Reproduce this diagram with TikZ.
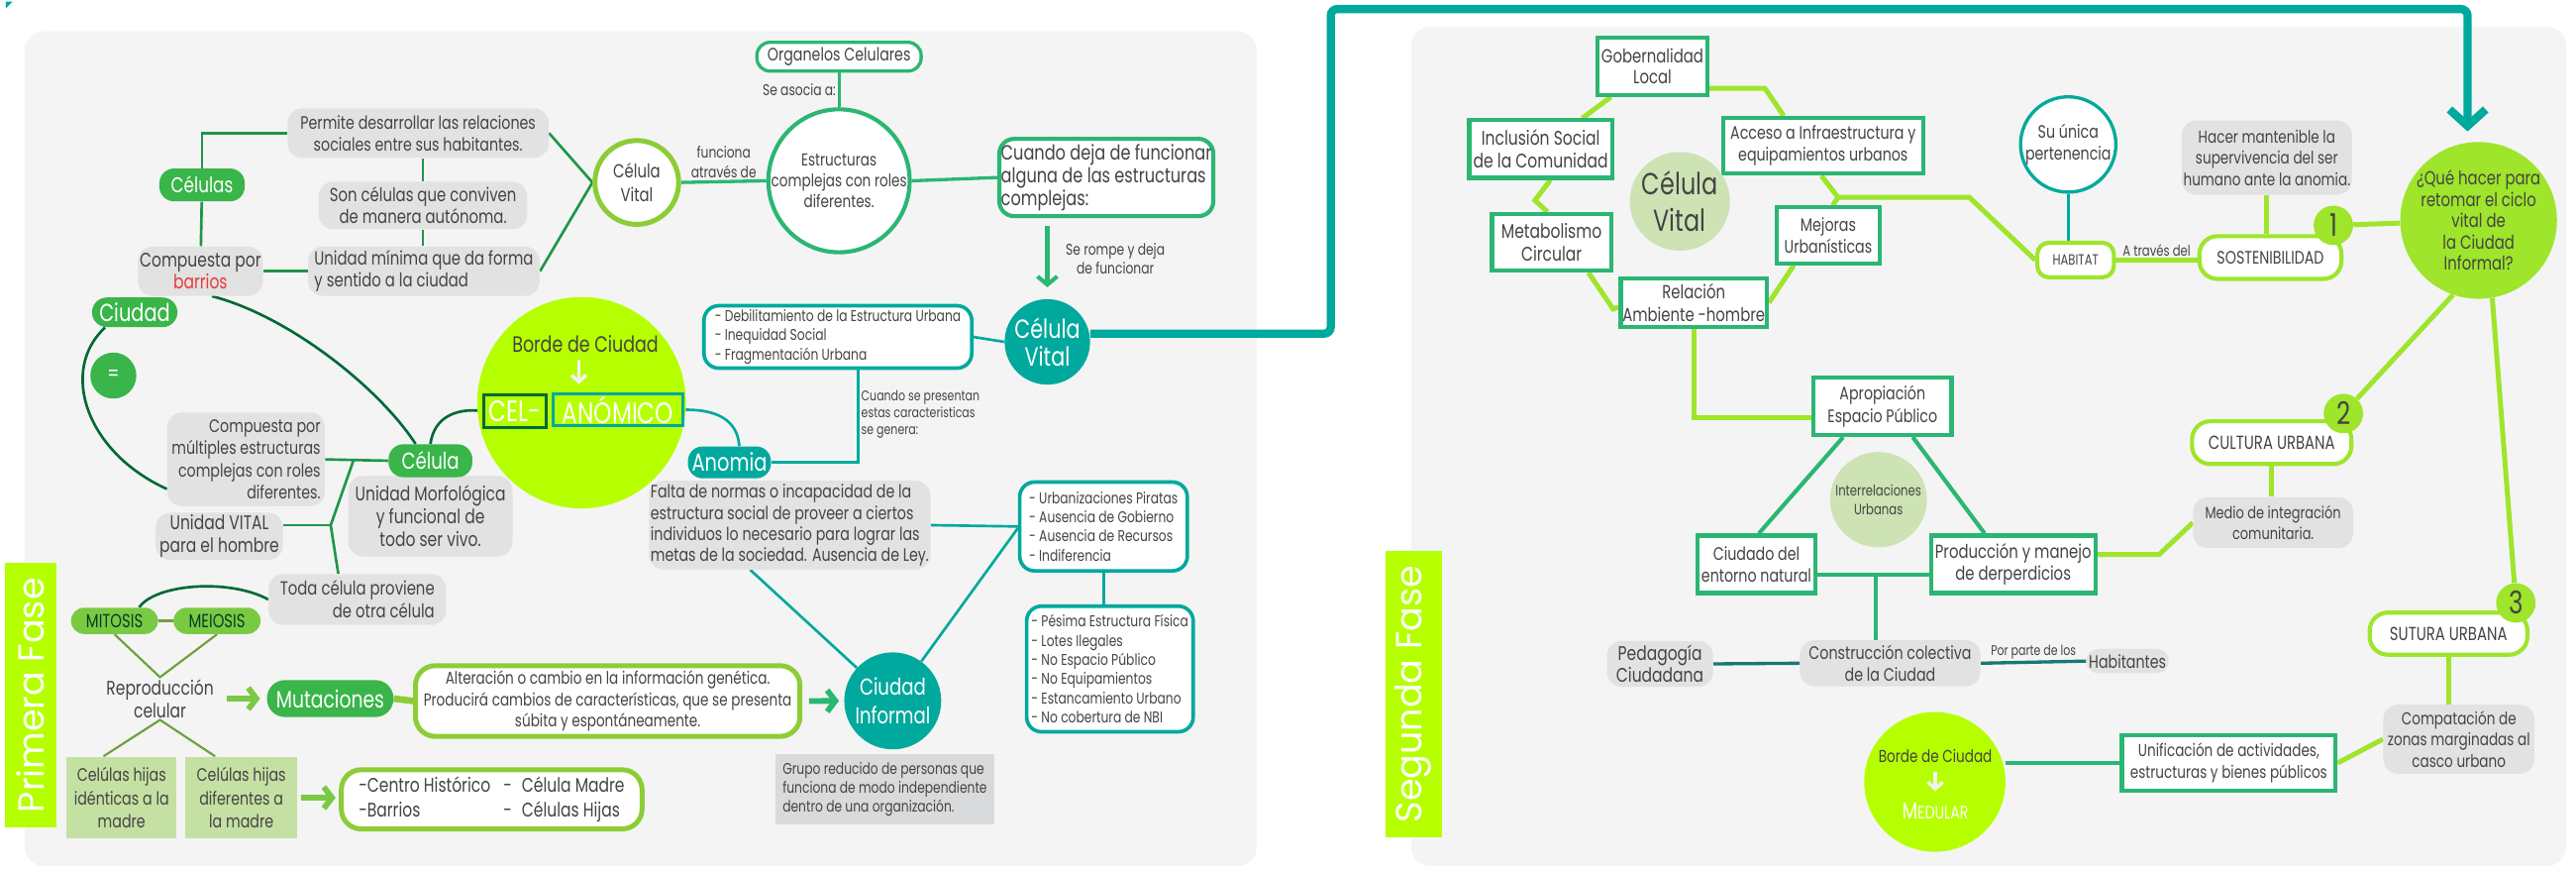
\documentclass[tikz,border=0pt]{standalone}
\usepackage{fontspec}
\setmainfont{Poppins}[FakeStretch=0.78]
\newfontfamily\phasefont{Poppins}
\usetikzlibrary{shapes.geometric,arrows.meta,calc}
\definecolor{panelbg}{RGB}{244,244,244}
\definecolor{boxgray}{RGB}{226,226,226}
\definecolor{grupogray}{RGB}{217,218,219}
\definecolor{txtgray}{RGB}{68,68,68}
\definecolor{pillgreen}{RGB}{57,181,74}
\definecolor{linegreen}{RGB}{30,150,72}
\definecolor{darkgreen}{RGB}{0,105,55}
\definecolor{medgreen}{RGB}{43,182,115}
\definecolor{celteal}{RGB}{0,169,157}
\definecolor{darkteal}{RGB}{22,122,114}
\definecolor{limec}{RGB}{182,255,0}
\definecolor{ringgreen}{RGB}{140,205,55}
\definecolor{mitgreen}{RGB}{122,201,67}
\definecolor{olivec}{RGB}{112,160,60}
\definecolor{hijasgreen}{RGB}{197,224,163}
\definecolor{brightlime}{RGB}{158,229,43}
\definecolor{palegreen}{RGB}{205,227,180}
\definecolor{barriored}{RGB}{232,57,58}
\newcommand{\fsz}[2]{\fontsize{#1}{#2}\selectfont}
\pgfdeclarelayer{back}
\pgfdeclarelayer{links}
\pgfsetlayers{back,links,main}

\begin{document}
\begin{tikzpicture}[x=1pt, y=-1pt,
    every node/.style={text=txtgray, inner sep=1pt, align=center},
    sz/.style 2 args={minimum width=#1pt, minimum height=#2pt},
    grisbox/.style={fill=boxgray, rounded corners=9pt},
    pill/.style={rounded corners=9pt, text=white},
    verdebox/.style={draw=medgreen, line width=2.5pt, fill=white},
    lineabox/.style={draw=brightlime, line width=2.5pt, fill=white, rounded corners=11pt},
    anillobox/.style={draw=ringgreen, line width=3pt, fill=white, rounded corners=12pt},
    tealbox/.style={draw=celteal, line width=2.2pt, fill=white, rounded corners=9pt},
    numero/.style={circle, fill=brightlime, minimum size=24pt, inner sep=0pt, font=\fsz{19}{19}},
    oval/.style={ellipse, inner sep=0pt},
    lbl/.style={font=\fsz{9}{11}},
    thinlink/.style={draw=linegreen, line width=1.6pt},
    curva/.style={draw=darkgreen, line width=1.6pt},
    midlink/.style={draw=medgreen, line width=2pt},
    teallink/.style={draw=celteal, line width=1.6pt},
    olivelink/.style={draw=olivec, line width=1.3pt},
    limelink/.style={draw=brightlime, line width=3pt},
    greenlink/.style={draw=medgreen, line width=2.5pt},
    darktlink/.style={draw=darkteal, line width=2pt},
    chunky/.style={line width=3.5pt, -{Straight Barb[length=5pt,width=13pt]}},
    blanca/.style={draw=white!90!gray, line width=2.2pt, -{Straight Barb[length=4pt,width=9pt]}},
    fase/.style={fill=limec, text=white, font=\phasefont\fsz{22}{22}}
  ]
  \useasboundingbox (0,0) rectangle (1568,529);

  % Panels
  \begin{pgfonlayer}{back}
    \fill[panelbg, rounded corners=12pt] (15,19) rectangle (765,527);
    \fill[panelbg, rounded corners=12pt] (859,16) rectangle (1562,527);
    \fill[celteal] (3.6,1) -- (7.6,1) -- (3.6,5) -- cycle;
  \end{pgfonlayer}

  % Primera fase: celulas
  \node[pill, fill=pillgreen, sz={52}{20}, font=\fsz{13}{13}] (celulas) at (123,112.5) {Células};
  \node[grisbox, sz={159}{30}, font=\fsz{11}{13.5}] (permite) at (254.5,81) {Permite desarrollar las relaciones\\sociales entre sus habitantes.};
  \node[grisbox, sz={127}{29}, font=\fsz{11.5}{13.5}] (son) at (257.5,125) {Son células que conviven\\de manera autónoma.};
  \node[grisbox, sz={141}{30}, align=left, font=\fsz{11.5}{13.5}] (unimin) at (258,165) {Unidad mínima que da forma\\y sentido a la ciudad};
  \node[grisbox, sz={76}{30}, font=\fsz{12}{13.5}] (barrios) at (122,165) {Compuesta por\\\textcolor{barriored}{barrios}};
  \node[oval, draw=ringgreen, line width=3pt, fill=white, sz={51}{51},
        label={[font=\fsz{11.5}{14}]center:{Célula\\Vital}}] (cvl) at (387.6,111) {};
  \node[verdebox, rounded corners=8pt, line width=2pt, sz={100}{17.5}, font=\fsz{11}{11}] (organ) at (510.7,34.5) {Organelos Celulares};
  \node[oval, draw=medgreen, line width=2.5pt, fill=white, sz={86}{87},
        label={[font=\fsz{10.5}{12.5}]center:{Estructuras\\complejas con roles\\diferentes.}}] (estr) at (510.7,110) {};
  \node[verdebox, rounded corners=9pt, sz={129}{47}, align=left, font=\fsz{12.5}{14}] (cuando) at (673.4,108) {Cuando deja de funcionar\\alguna de las estructuras\\complejas:};
  \node[oval, fill=celteal, sz={52}{52},
        label={[text=white, font=\fsz{16}{17}]center:{Célula\\Vital}}] (cvt) at (637.5,208) {};
  \node[tealbox, sz={163}{38}, align=left, font=\fsz{9.5}{11.7}] (deb) at (510,205) {- Debilitamiento de la Estructura Urbana\\- Inequidad Social\\- Fragmentación Urbana};

  % Borde de ciudad
  \node[oval, fill=limec, sz={127}{128.6}] (borde) at (354,245) {};
  \node[font=\fsz{13.5}{13.5}] (bordetxt) at (356.3,209.3) {Borde de Ciudad};
  \node[draw=darkgreen, line width=1.8pt, sz={38}{20}, inner sep=0pt, text=white, font=\fsz{18}{18}] (cel) at (313.5,250) {CEL-};
  \node[draw=celteal, line width=1.8pt, sz={78.5}{19.5}, inner sep=0pt, text=white, font=\fsz{18}{18}] (anomico) at (376.2,249.3) {ANÓMICO};
  \node[grisbox, sz={100}{49}, font=\fsz{12}{14}] (morf) at (262,314) {Unidad Morfológica\\y funcional de\\todo ser vivo.};
  \node[pill, fill=pillgreen, sz={51}{20}, font=\fsz{14}{14}] (celula) at (262,280.3) {Célula};
  \node[pill, fill=celteal, sz={50.6}{19.4}, font=\fsz{15}{15}] (anomia) at (444,281.3) {Anomia};
  \node[grisbox, sz={171}{54}, align=left, font=\fsz{11}{12.7}] (falta) at (480.7,319.5) {Falta de normas o incapacidad de la\\estructura social de proveer a ciertos\\individuos lo necesario para lograr las\\metas de la sociedad. Ausencia de Ley.};
  \node[tealbox, sz={102}{54}, align=left, font=\fsz{9.5}{11.7}] (urb) at (671.7,320.3) {- Urbanizaciones Piratas\\- Ausencia de Gobierno\\- Ausencia de Recursos\\- Indiferencia};
  \node[tealbox, sz={101.4}{76.4}, align=left, font=\fsz{9.5}{11.7}] (pes) at (675.6,407) {- Pésima Estructura Física\\- Lotes Ilegales\\- No Espacio Público\\- No Equipamientos\\- Estancamiento Urbano\\- No cobertura de NBI};
  \node[oval, fill=celteal, sz={59}{59},
        label={[text=white, font=\fsz{14}{17}]center:{Ciudad\\Informal}}] (ci) at (543.4,426.4) {};
  \node[fill=grupogray, sz={133}{43}, align=left, font=\fsz{9.5}{11.5}] (grupo) at (538.6,480) {Grupo reducido de personas que\\funciona de modo independiente\\dentro de una organización.};

  % Ciudad y reproduccion
  \node[anillobox, sz={234}{43}, font=\fsz{10.5}{13}] (alt) at (369.9,426.5) {Alteración o cambio en la información genética.\\Producirá cambios de características, que se presenta\\súbita y espontáneamente.};
  \node[pill, fill=pillgreen, rounded corners=11pt, sz={77}{22.5}, font=\fsz{14.5}{14.5}] (mut) at (201,425) {Mutaciones};
  \node[font=\fsz{12}{14}] (rep) at (97.4,425) {Reproducción\\celular};
  \node[pill, fill=mitgreen, rounded corners=8pt, sz={53}{16}, inner sep=0pt, text=darkgreen!60!black, font=\fsz{11.5}{11.5}] (mitosis) at (69.7,377.7) {MITOSIS};
  \node[pill, fill=mitgreen, rounded corners=8pt, sz={53}{16}, inner sep=0pt, text=darkgreen!60!black, font=\fsz{11.5}{11.5}] (meiosis) at (132.1,377.7) {MEIOSIS};
  \node[grisbox, sz={108}{31}, align=right, font=\fsz{11.5}{14}] (toda) at (217.5,364.7) {Toda célula proviene\\de otra célula};
  \node[grisbox, sz={77.5}{28.7}, font=\fsz{12}{14}] (uv) at (133.5,326.3) {Unidad VITAL\\para el hombre};
  \node[grisbox, sz={96}{57}, align=right, font=\fsz{11}{13.5}] (cm) at (149.8,279.5) {Compuesta por\\múltiples estructuras\\complejas con roles\\diferentes.};
  \node[pill, fill=pillgreen, sz={52}{18}, font=\fsz{15}{15}] (ciudad) at (82,190) {Ciudad};
  \node[circle, fill=pillgreen, minimum size=28pt, inner sep=0pt, text=white, font=\fsz{13}{13}] (igual) at (69,228.5) {=};
  \node[fill=hijasgreen, sz={67}{50}, font=\fsz{11}{14}] (hija1) at (74,485.3) {Celúlas hijas\\idénticas a la\\madre};
  \node[fill=hijasgreen, sz={68}{50}, font=\fsz{11}{14}] (hija2) at (146.9,485.3) {Celúlas hijas\\diferentes a\\la madre};
  \node[anillobox, sz={183}{36}, font=\fsz{12}{15}] (centro) at (299.3,486.3) {\begin{tabular}{@{}l@{\hspace{8pt}}l@{}}-Centro Histórico & -\hspace{6pt}Célula Madre\\-Barrios & -\hspace{6pt}Células Hijas\end{tabular}};
  \node[fase, rotate=90, sz={161}{31}] (fase1) at (18.8,423) {Primera Fase};

  % Segunda fase
  \node[verdebox, sz={67}{35}, font=\fsz{11.5}{13}] (gob) at (1005.8,40.3) {Gobernalidad\\Local};
  \node[verdebox, sz={87}{35}, font=\fsz{12}{14}] (inc) at (937.8,90.7) {Inclusión Social\\de la Comunidad};
  \node[verdebox, sz={122}{34}, font=\fsz{11}{13.5}] (acc) at (1109.7,88.7) {Acceso a Infraestructura y\\equipamientos urbanos};
  \node[oval, fill=palegreen, sz={61}{60},
        label={[font=\fsz{18.5}{22}]center:{Célula\\Vital}}] (cvp) at (1022.5,122.5) {};
  \node[verdebox, sz={72.5}{34.5}, font=\fsz{12}{14}] (met) at (944.4,147.4) {Metabolismo\\Circular};
  \node[verdebox, sz={63}{34}, font=\fsz{11}{13}] (mej) at (1112.8,143.2) {Mejoras\\Urbanísticas};
  \node[verdebox, sz={89}{29.5}, font=\fsz{11.5}{13.5}] (rel) at (1031,184.1) {Relación\\Ambiente -hombre};
  \node[verdebox, sz={84}{35}, font=\fsz{11}{14}] (apr) at (1145.9,247.2) {Apropiación\\Espacio Público};
  \node[oval, fill=palegreen, sz={59}{58},
        label={[font=\fsz{9}{11.5}]center:{Interrelaciones\\Urbanas}}] (inter) at (1143.4,304) {};
  \node[verdebox, sz={72}{35}, font=\fsz{11}{13.5}] (cdn) at (1069.1,343.3) {Ciudado del\\entorno natural};
  \node[verdebox, sz={100}{35}, font=\fsz{11.5}{13.5}] (prod) at (1225.4,343.3) {Producción y manejo\\de derperdicios};
  \node[grisbox, sz={64.5}{28}, font=\fsz{12}{13}] (ped) at (1010.4,403.9) {Pedagogía\\Ciudadana};
  \node[grisbox, sz={110}{28}, font=\fsz{11}{13}] (cons) at (1150.5,403.5) {Construcción colectiva\\de la Ciudad};
  \node[grisbox, rounded corners=7pt, sz={50}{14.7}, inner sep=0pt, font=\fsz{11}{11}] (habt) at (1295,402.2) {Habitantes};
  \node[oval, fill=limec, sz={86}{85}] (med) at (1177.7,475.7) {};
  \node[font=\fsz{10.5}{10.5}] (medtxt) at (1178,460.1) {Borde de Ciudad};
  \node[text=white, font=\fsz{11}{11}] (medular) at (1178,493.7) {{\fsz{14}{14}M}EDULAR};
  \node[verdebox, sz={130}{34}, font=\fsz{10.5}{13.5}] (uni) at (1356.6,464.2) {Unificación de actividades,\\estructuras y bienes públicos};
  \node[grisbox, sz={92}{42}, font=\fsz{10.5}{13}] (comp) at (1496.7,449.7) {Compatación de\\zonas marginadas al\\casco urbano};
  \node[lineabox, sz={96}{25.6}, font=\fsz{11.5}{11.5}] (sut) at (1490.4,385.5) {SUTURA URBANA};
  \node[numero] (n3) at (1531.4,366.8) {3};
  \node[lineabox, sz={97}{26}, font=\fsz{11.5}{11.5}] (cult) at (1382.8,269.3) {CULTURA URBANA};
  \node[numero] (n2) at (1426.4,251.6) {2};
  \node[grisbox, sz={97.4}{31}, font=\fsz{10}{12.5}] (medio) at (1383.6,318) {Medio de integración\\comunitaria.};
  \node[circle, draw=celteal, line width=2pt, fill=white, minimum size=58pt, inner sep=0pt, font=\fsz{11}{13.5}] (su) at (1258.9,87.9) {Su única\\pertenencia};
  \node[lineabox, rounded corners=7pt, sz={46.6}{21}, inner sep=0pt, font=\fsz{9}{9}] (hab) at (1263.4,158.2) {HABITAT};
  \node[lineabox, sz={86.5}{26}, font=\fsz{11}{11}] (sos) at (1382,156.7) {SOSTENIBILIDAD};
  \node[grisbox, sz={102.6}{45.2}, font=\fsz{10.5}{13}] (hacer) at (1379.8,95.9) {Hacer mantenible la\\supervivencia del ser\\humano ante la anomia.};
  \node[numero] (n1) at (1420.3,137.1) {1};
  \node[oval, fill=brightlime, sz={95.4}{95.4},
        label={[font=\fsz{11.5}{13}]center:{¿Qué hacer para\\retomar el ciclo\\vital de\\la Ciudad\\Informal?}}] (que) at (1508.7,134.1) {};
  \node[fase, rotate=90, sz={174}{34.5}] (fase2) at (860.4,422.3) {Segunda Fase};

  % Arrows inside the lime circles
  \draw[blanca] ([xshift=-4pt, yshift=-3pt]bordetxt.south) -- ++(0,15);
  \draw[blanca] ([yshift=-4pt]medtxt.south) -- ++(0,12);

  % Connectors
  \begin{pgfonlayer}{links}
    \draw[thinlink] (celulas.north) |- (permite.west);
    \draw[thinlink] (celulas) -- (barrios);
    \draw[thinlink] (son.north) -- (son.north |- permite.south);
    \draw[thinlink] (son.south) -- (son.south |- unimin.north);
    \draw[thinlink] (barrios.east) -- (unimin.west);
    \draw[thinlink] (permite.east) -- (cvl.west) -- (unimin.east);
    \draw[curva] ([xshift=-18pt]ciudad.south) .. controls (36,225) and (52,275) .. ([yshift=-18pt]cm.west);
    \draw[curva] ([xshift=7pt]barrios.south) .. controls (175,192) and (230,235) .. ([xshift=-9pt]celula.north);
    \draw[curva] (cel.west) .. controls (276,248) and (264,255) .. (celula.north);
    \draw[teallink] (anomico.east) .. controls (440,249) and (449,258) .. ([xshift=6pt]anomia.north);

    \draw[midlink] (organ.south) -- node[left, lbl, font=\fsz{9.5}{11}] {Se asocia a:} (organ.south |- estr.north);
    \draw[midlink] (cvl.east) -- node[above, lbl, font=\fsz{9.5}{12}] {funciona\\através de} (estr.west);
    \draw[midlink] (estr.east) -- (cuando.west);
    \draw[midlink, line width=2.5pt, -{Straight Barb[length=5pt,width=12pt]}, shorten <=5pt, shorten >=7pt]
      (cvt.north |- cuando.south) -- node[right=9pt, lbl, font=\fsz{9.5}{11.5}] {Se rompe y deja\\de funcionar} (cvt.north);
    \draw[teallink] (deb.east) -- (cvt.west);
    \draw[teallink] ([xshift=12.5pt]deb.south) |- node[pos=0.24, right, align=left, font=\fsz{8.5}{10}] {Cuando se presentan\\estas caracteristicas\\se genera:} (anomia.east);
    \draw[teallink] (falta.east) -- (urb.west);
    \draw[teallink] (urb.south) -- (urb.south |- pes.north);
    \draw[teallink] ([xshift=-24pt]falta.south) -- (ci);
    \draw[teallink] ([yshift=-1pt]urb.west) -- (ci);

    \draw[chunky, draw=medgreen, shorten <=4pt, shorten >=3pt] (alt.east) -- (ci.west);
    \draw[draw=ringgreen, line width=4pt] (mut.east) -- (alt.west);
    \draw[chunky, draw=mitgreen, shorten <=7pt, shorten >=4pt] (rep.east) -- (mut.west);
    \draw[olivelink] (mitosis.south) -- (rep.north) -- (meiosis.south);
    \draw[olivelink] ([xshift=-11pt]hija1.north) -- (rep.south) -- ([xshift=-16pt]hija2.north);
    \draw[olivelink] (mitosis.east) -- (meiosis.west);
    \draw[curva] ([xshift=15pt]mitosis.north) .. controls (95,355) and (140,352) .. (toda.west);
    \draw[thinlink] (cm.east) -- (celula.west);
    \coordinate (j1) at ($(cm.east)!0.45!(celula.west)$);
    \coordinate (j2) at (201.3,319.5);
    \draw[thinlink] (j1) -- (j2) -- ([xshift=-11.6pt]toda.north);
    \draw[thinlink] (uv.east |- j2) -- (j2);
    \draw[chunky, draw=mitgreen, shorten <=2pt, shorten >=2pt] (hija2.east) -- (hija2.east -| centro.west);

    % Salto a la segunda fase
    \coordinate (giro) at (810,5.5);
    \coordinate (punta) at (1502,80);
    \draw[draw=celteal, line width=5pt, rounded corners=4pt, -{Straight Barb[length=10pt,width=22pt]}]
      ([yshift=5pt]cvt.east) -| (giro) -| (punta);

    \draw[limelink] (gob) -- (inc);
    \draw[limelink] ([xshift=6pt]inc.south) -- ++(-9.5,12.4) -- ([xshift=-2.5pt]met.north);
    \draw[limelink] ([xshift=22.5pt]met.south) -- ++(15,22.1) -- ([yshift=-2.7pt]rel.west);
    \draw[limelink] (rel.east) -- ([xshift=-21pt]mej.south);
    \coordinate (hj) at (1118.8,120.1);
    \draw[limelink] ([xshift=2.7pt]mej.north) -- (hj) -- ([xshift=-1pt]acc.south);
    \draw[limelink] (hj) -- ++(80,0) -- (hab.west);
    \draw[limelink] ([yshift=-13.5pt]gob.east) -- ++(33.8,0) -- ([xshift=-24pt]acc.north);
    \draw[limelink] (rel.south) |- ([yshift=-7pt]apr.west);
    \draw[greenlink] ([xshift=-24pt]apr.south) -- ([xshift=1.5pt]cdn.north);
    \draw[greenlink] ([xshift=18.4pt]apr.south) -- ([xshift=-17.4pt]prod.north);
    \draw[greenlink] ([yshift=-6.3pt]cdn.east) -- ([yshift=-6.3pt]prod.west);
    \coordinate (hj2) at (1141.8,349.6);
    \draw[greenlink] (hj2) -- (hj2 |- cons.north);
    \draw[darktlink] (ped.east) -- (cons.west);
    \draw[darktlink] (cons.east) -- node[above, font=\fsz{8.5}{8.5}] {Por parte de los} (habt.west);
    \draw[greenlink] (uni.west) -- (uni.west -| med.east);
    \draw[limelink] (uni.east) -- (comp.west);
    \draw[limelink] (sut.south) -- (sut.south |- comp.north);
    \draw[limelink] (que.280) -- (n3);
    \draw[limelink] (que.251) -- (n2);
    \draw[limelink] (n1) -- (que);
    \draw[limelink] (cult.south) -- (cult.south |- medio.north);
    \draw[limelink] ([yshift=6pt]prod.east) -- ++(37.7,0) -- (medio.west);
    \draw[limelink] (hacer.south) -- (hacer.south |- sos.north);
    \draw[limelink] (hab.east) -- node[above, lbl] {A través del} (hab.east -| sos.west);
    \draw[teallink, line width=2pt] (su.south) -- (su.south |- hab.north);
  \end{pgfonlayer}
\end{tikzpicture}
\end{document}
